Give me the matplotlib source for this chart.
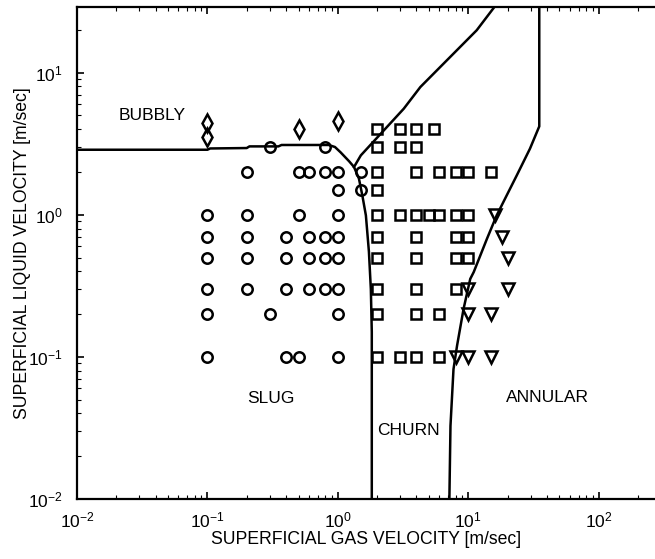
import matplotlib
matplotlib.use("Agg")
from matplotlib import pyplot as plt

plt.rcParams['font.family'] = ['Liberation Sans', 'DejaVu Sans']
plt.rcParams['mathtext.fontset'] = 'custom'
plt.rcParams['mathtext.rm'] = 'Liberation Sans'
plt.rcParams['mathtext.it'] = 'Liberation Sans'

# bubbly data (diamonds)
bub_x = [0.1, 0.1, 0.5, 1.0]
bub_y = [4.4, 3.5, 4.0, 4.6]

# slug data (circles)
slug_x = [0.3, 0.8,
          0.2, 0.5, 0.6, 0.8, 1.0, 1.5,
          1.0, 1.5,
          0.1, 0.2, 0.5, 1.0,
          0.1, 0.2, 0.4, 0.6, 0.8, 1.0,
          0.1, 0.2, 0.4, 0.6, 0.8, 1.0,
          0.1, 0.2, 0.4, 0.6, 0.8, 1.0,
          0.1, 0.3, 1.0,
          0.1, 0.4, 0.5, 1.0]
slug_y = [3.0, 3.0,
          2.0, 2.0, 2.0, 2.0, 2.0, 2.0,
          1.5, 1.5,
          1.0, 1.0, 1.0, 1.0,
          0.7, 0.7, 0.7, 0.7, 0.7, 0.7,
          0.5, 0.5, 0.5, 0.5, 0.5, 0.5,
          0.3, 0.3, 0.3, 0.3, 0.3, 0.3,
          0.2, 0.2, 0.2,
          0.1, 0.1, 0.1, 0.1]

# churn data (squares)
churn_x = [2, 3, 4, 5.5,
           2, 3, 4,
           2, 4, 6, 8, 10, 15,
           2,
           2, 3, 4, 5, 6, 8, 10,
           2, 4, 8, 10,
           2, 4, 8, 10,
           2, 4, 8,
           2, 4, 6,
           2, 3, 4, 6]
churn_y = [4.0, 4.0, 4.0, 4.0,
           3.0, 3.0, 3.0,
           2.0, 2.0, 2.0, 2.0, 2.0, 2.0,
           1.5,
           1.0, 1.0, 1.0, 1.0, 1.0, 1.0, 1.0,
           0.7, 0.7, 0.7, 0.7,
           0.5, 0.5, 0.5, 0.5,
           0.3, 0.3, 0.3,
           0.2, 0.2, 0.2,
           0.1, 0.1, 0.1, 0.1]

# annular data (triangles)
ann_x = [16, 18, 20, 10, 20, 10, 15, 8, 10, 15]
ann_y = [1.0, 0.7, 0.5, 0.3, 0.3, 0.2, 0.2, 0.1, 0.1, 0.1]

# transition boundaries
bs_x = [0.01, 0.1, 0.105, 0.2, 0.21, 0.35, 0.37, 0.85, 0.95, 1.05, 1.22, 1.33,
        1.45, 1.54, 1.64, 1.73, 1.79, 1.82, 1.82]
bs_y = [2.87, 2.87, 2.93, 2.95, 3.03, 3.03, 3.1, 3.1, 3.0, 2.75, 2.38, 2.17,
        1.8, 1.37, 0.99, 0.55, 0.3, 0.15, 0.01]

diag_x = [1.33, 1.5, 3.2, 4.29, 11.6, 16.3]
diag_y = [2.17, 2.62, 5.58, 7.93, 19.9, 30]

ca_x = [35, 35, 29.7, 23.5, 19.7, 16.5, 13.9, 11.0, 10.35, 9.2, 8.2, 7.7, 7.3, 7.16]
ca_y = [30, 4.19, 2.92, 1.89, 1.37, 0.99, 0.678, 0.395, 0.354, 0.218, 0.12, 0.082, 0.0327, 0.01]

fig = plt.figure(figsize=(6.55, 5.59), dpi=100)
ax = fig.add_axes([77/655, 60/559, 578/655, 492/559])

ax.plot(bs_x, bs_y, color='k', lw=1.8)
ax.plot(diag_x, diag_y, color='k', lw=1.8)
ax.plot(ca_x, ca_y, color='k', lw=1.8)

ax.plot(bub_x, bub_y, 'd', mfc='none', mec='k', mew=1.8, ms=9, ls='none')
ax.plot(slug_x, slug_y, 'o', mfc='none', mec='k', mew=1.8, ms=7.5, ls='none')
ax.plot(churn_x, churn_y, 's', mfc='none', mec='k', mew=1.8, ms=7, ls='none')
ax.plot(ann_x, ann_y, 'v', mfc='none', mec='k', mew=1.8, ms=8.5, ls='none')

ax.set_xscale('log')
ax.set_yscale('log')
ax.set_xlim(0.01, 270)
ax.set_ylim(0.01, 29)

ax.text(0.021, 5.0, 'BUBBLY', fontsize=12.5, va='center', ha='left')
ax.text(0.307, 0.0506, 'SLUG', fontsize=12.5, va='center', ha='center')
ax.text(3.48, 0.0302, 'CHURN', fontsize=12.5, va='center', ha='center')
ax.text(40.4, 0.0515, 'ANNULAR', fontsize=12.5, va='center', ha='center')

ax.set_xlabel('SUPERFICIAL GAS VELOCITY [m/sec]', fontsize=12.7, labelpad=1)
ax.set_ylabel('SUPERFICIAL LIQUID VELOCITY [m/sec]', fontsize=12.7)
ax.yaxis.set_label_coords(-0.08, 0.5)

for s in ['left', 'bottom', 'top']:
    ax.spines[s].set_linewidth(1.6)
ax.spines['right'].set_visible(False)

ax.tick_params(which='both', direction='in', top=True, right=False, labelsize=12.5)
ax.tick_params(which='major', length=5, width=1.2)
ax.tick_params(axis='x', which='major', pad=8)
ax.tick_params(axis='y', which='major', pad=10)
ax.tick_params(which='minor', length=3, width=0.8)

fig.savefig('out.png', dpi=100)
